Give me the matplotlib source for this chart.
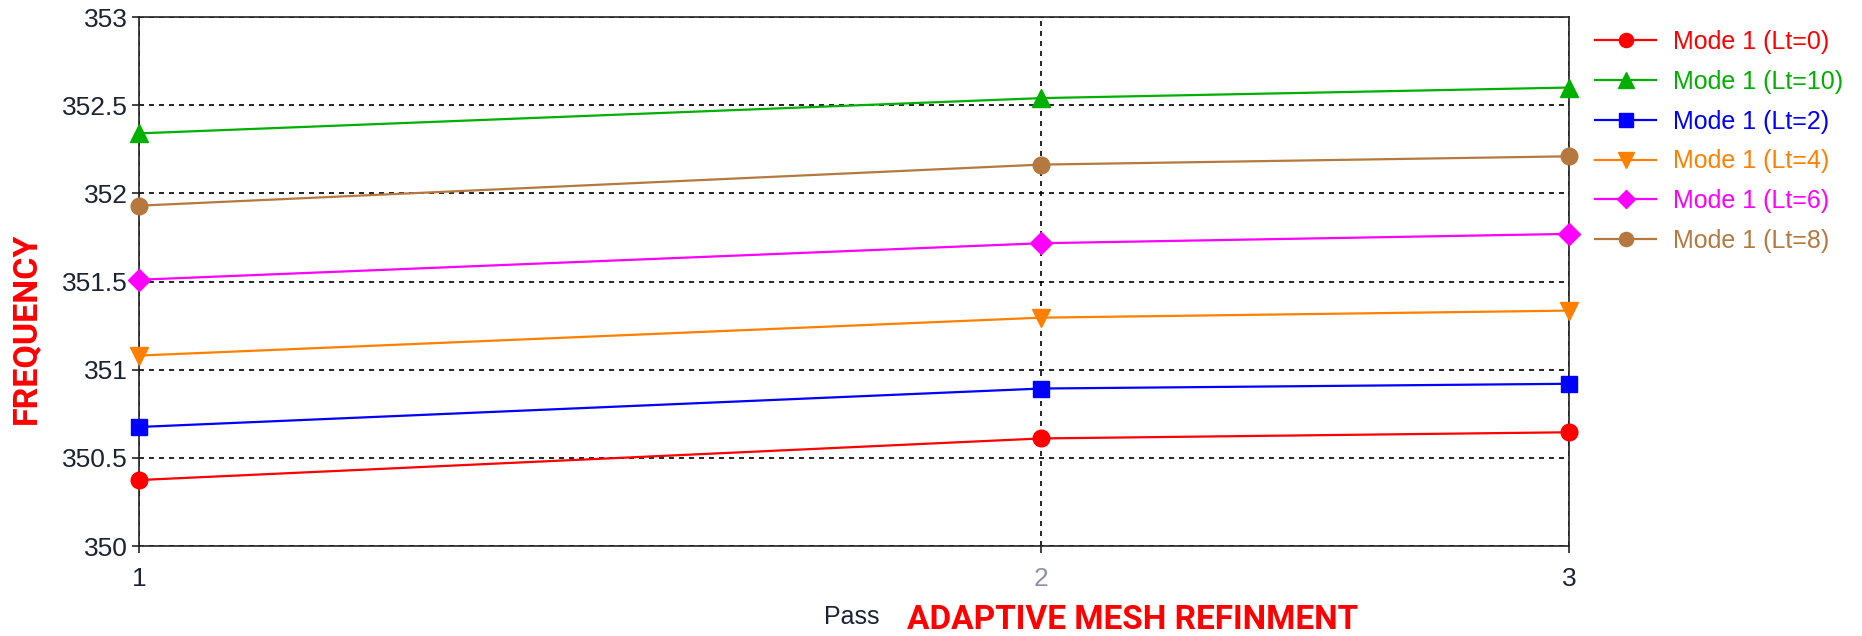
import matplotlib
matplotlib.use("Agg")
import matplotlib.pyplot as plt
from matplotlib.ticker import FixedLocator, NullLocator, FixedFormatter

# ---- data ----
passes = [1, 2, 3]
series_labels = ["Mode 1 (Lt=0)", "Mode 1 (Lt=10)", "Mode 1 (Lt=2)",
                 "Mode 1 (Lt=4)", "Mode 1 (Lt=6)", "Mode 1 (Lt=8)"]
freq_lt0 = [350.374, 350.610, 350.645]
freq_lt10 = [352.340, 352.540, 352.600]
freq_lt2 = [350.675, 350.893, 350.920]
freq_lt4 = [351.080, 351.295, 351.335]
freq_lt6 = [351.510, 351.717, 351.770]
freq_lt8 = [351.930, 352.163, 352.210]
y_ticks = [350, 350.5, 351, 351.5, 352, 352.5, 353]
y_tick_labels = ["350", "350.5", "351", "351.5", "352", "352.5", "353"]
x_tick_labels = ["1", "2", "3"]

series = [freq_lt0, freq_lt10, freq_lt2, freq_lt4, freq_lt6, freq_lt8]
colors = ["#ff0000", "#00b000", "#0000ff", "#ff8000", "#ff00ff", "#b5793f"]
markers = ["o", "^", "s", "v", "D", "o"]
msizes = [12, 13, 12, 13, 11, 12]

FONT = "Liberation Sans"
BOLD_FONT = "Roboto"
TICK_COLOR = "#1c2333"

fig = plt.figure(figsize=(18.62, 6.36), dpi=100)
ax = fig.add_axes([139 / 1862, 1 - 546 / 636, (1569 - 139) / 1862, (546 - 17) / 636])

for vals, lab, c, m, ms in zip(series, series_labels, colors, markers, msizes):
    ax.plot(passes, vals, color=c, marker=m, markersize=ms, linewidth=1.6,
            label=lab, clip_on=False, zorder=3)

ax.set_xscale("log")
ax.set_xlim(1, 3)
ax.set_ylim(350, 353)
ax.xaxis.set_major_locator(FixedLocator(passes))
ax.xaxis.set_major_formatter(FixedFormatter(x_tick_labels))
ax.xaxis.set_minor_locator(NullLocator())
ax.set_yticks(y_ticks)
ax.set_yticklabels(y_tick_labels)

ax.grid(True, which="major", color="black", linestyle=(0, (3, 3)), linewidth=1.2)
ax.set_axisbelow(True)
for s in ax.spines.values():
    s.set_color("#222222")
    s.set_linewidth(1.2)

ax.tick_params(axis="both", direction="out", length=5, width=1.2, color="#222222",
               labelsize=19, labelcolor=TICK_COLOR)
ax.tick_params(axis="x", pad=10)
ax.tick_params(axis="y", pad=3)
for t in ax.get_xticklabels() + ax.get_yticklabels():
    t.set_fontfamily(FONT)
ax.get_xticklabels()[1].set_color("#8a94a6")

# axis captions
fig.text(26 / 1862, 1 - 328 / 636, "FREQUENCY", rotation=90, color="red",
         fontsize=24.5, fontweight="bold", family=BOLD_FONT,
         ha="center", va="center")
fig.text(880 / 1862, 1 - 617 / 636, "Pass", color=TICK_COLOR, fontsize=18,
         family=FONT, ha="right", va="center")
fig.text(907 / 1862, 1 - 620 / 636, "ADAPTIVE MESH REFINMENT", color="red",
         fontsize=24, fontweight="bold", family=BOLD_FONT,
         ha="left", va="center")

leg = fig.legend(loc="upper left", bbox_to_anchor=(1595 / 1862, 1 - 30 / 636),
                 frameon=False, borderpad=0, borderaxespad=0, markerscale=0.85,
                 handlelength=2.44, handletextpad=0.68, labelspacing=0.63,
                 prop={"family": FONT, "size": 18})
for txt, c in zip(leg.get_texts(), colors):
    txt.set_color(c)

fig.savefig("out.png", dpi=100)
